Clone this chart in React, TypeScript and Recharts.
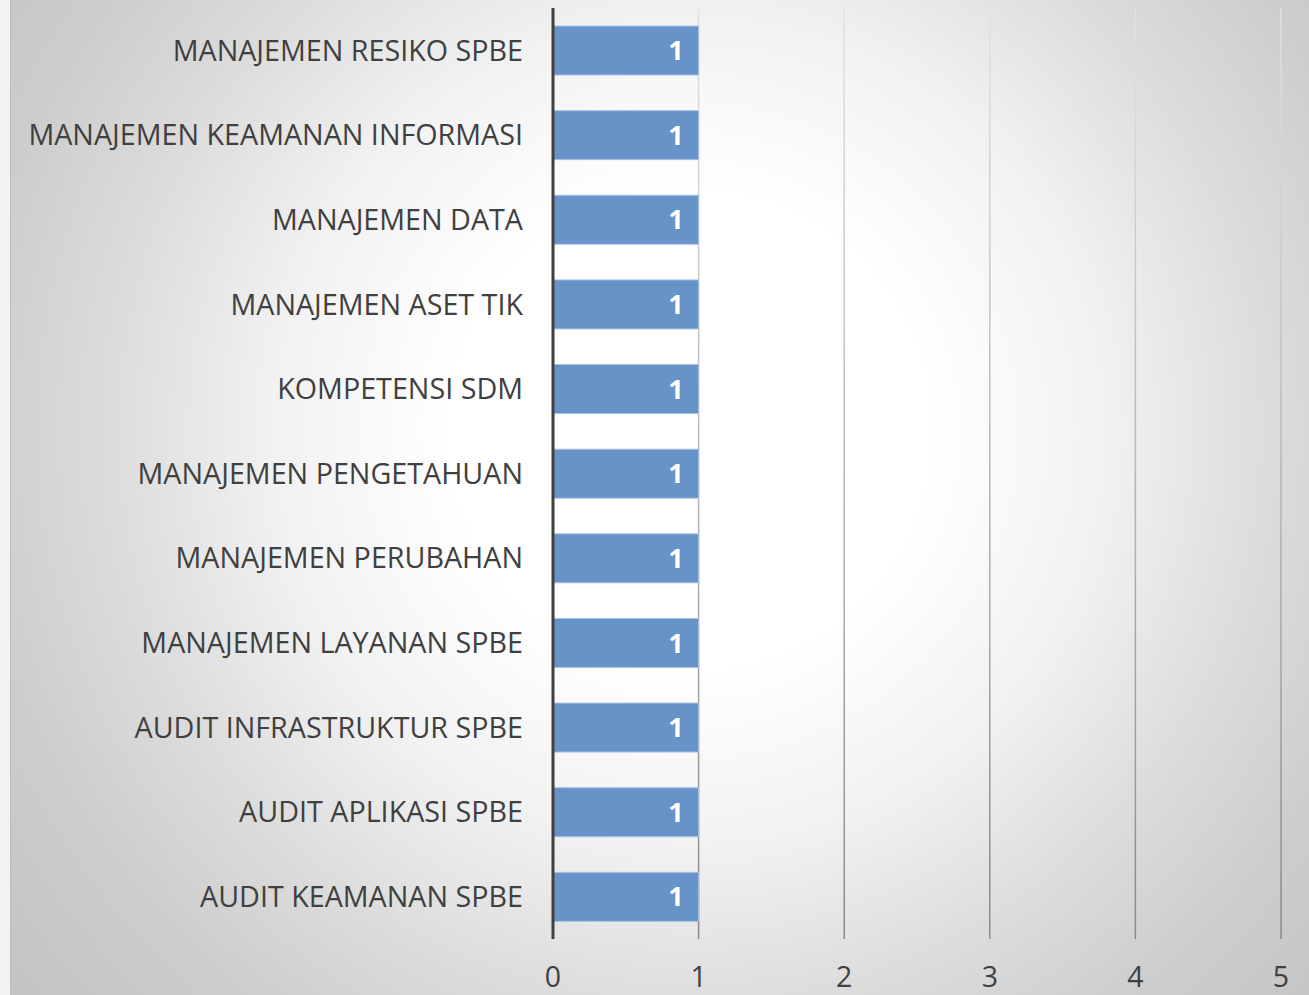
import React from "react";
import { BarChart, Bar, XAxis, YAxis, CartesianGrid, LabelList } from "recharts";

const categories = [
  "MANAJEMEN RESIKO SPBE",
  "MANAJEMEN KEAMANAN INFORMASI",
  "MANAJEMEN DATA",
  "MANAJEMEN ASET TIK",
  "KOMPETENSI SDM",
  "MANAJEMEN PENGETAHUAN",
  "MANAJEMEN PERUBAHAN",
  "MANAJEMEN LAYANAN SPBE",
  "AUDIT INFRASTRUKTUR SPBE",
  "AUDIT APLIKASI SPBE",
  "AUDIT KEAMANAN SPBE",
];

const values = [1, 1, 1, 1, 1, 1, 1, 1, 1, 1, 1];

const xTicks = [0, 1, 2, 3, 4, 5];

const data = categories.map((name, i) => ({ name, value: values[i] }));

const FONT = "'Open Sans', 'Noto Sans', sans-serif";
const TEXT = "#404040";

const CategoryTick = ({ x, y, payload }: any) => (
  <text x={x - 30} y={y} dy="0.36em" textAnchor="end" fill={TEXT} fontSize={28.7} fontFamily={FONT}>
    {payload.value}
  </text>
);

const ValueTick = ({ x, y, payload }: any) => (
  <text x={x} y={y + 48} textAnchor="middle" fill={TEXT} fontSize={28.5} fontFamily={FONT}>
    {payload.value}
  </text>
);

export default function App() {
  return (
    <div style={{ position: "absolute", left: 0, top: 0, width: 1309, height: 995, background: "#f2f2f2" }}>
      <div
        style={{
          position: "absolute",
          left: 10,
          top: 0,
          width: 1299,
          height: 995,
          boxShadow: "inset 1px 0 0 #bdbdbd",
          background:
            "radial-gradient(circle at 680px 430px, #ffffff 0px, #ffffff 240px, #f1f1f1 420px, #dcdcdc 580px, #cdcdcd 720px, #c2c2c2 900px)",
        }}
      >
        <BarChart
          width={1299}
          height={995}
          data={data}
          layout="vertical"
          margin={{ top: 8, right: 28, bottom: 0, left: 0 }}
          barSize={49}
        >
          <defs>
            <linearGradient id="gridFade" gradientUnits="userSpaceOnUse" x1="0" y1="8" x2="0" y2="939">
              <stop offset="0%" stopColor="#e2e2e2" />
              <stop offset="100%" stopColor="#8a8a8a" />
            </linearGradient>
          </defs>
          <CartesianGrid horizontal={false} stroke="url(#gridFade)" strokeWidth={1.5} />
          <XAxis
            type="number"
            domain={[0, 5]}
            ticks={xTicks}
            axisLine={false}
            tickLine={false}
            tickSize={0}
            tickMargin={0}
            height={56}
            tick={<ValueTick />}
            interval={0}
          />
          <YAxis
            type="category"
            dataKey="name"
            width={543}
            axisLine={{ stroke: TEXT, strokeWidth: 3 }}
            tickLine={false}
            tickSize={0}
            tickMargin={0}
            tick={<CategoryTick />}
            interval={0}
          />
          <Bar dataKey="value" fill="#6893c8" stroke="#a9c2e3" strokeWidth={1} isAnimationActive={false}>
            <LabelList
              dataKey="value"
              position="insideRight"
              offset={15}
              fill="#ffffff"
              fontSize={27}
              fontWeight="bold"
              fontFamily={FONT}
            />
          </Bar>
        </BarChart>
      </div>
    </div>
  );
}
